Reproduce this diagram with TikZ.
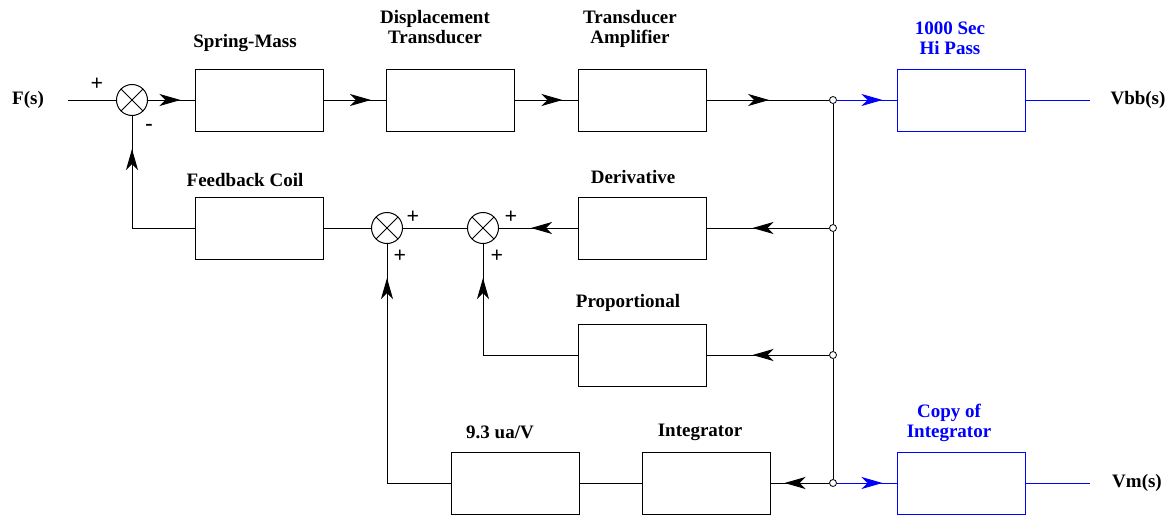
\documentclass[tikz,border=0pt]{standalone}
\usepackage{fontspec}
\setmainfont{Liberation Serif}[BoldFont={Liberation Serif Bold}]
\usetikzlibrary{arrows.meta,decorations.markings}

\begin{document}
\begin{tikzpicture}[x=1pt,y=-1pt,line width=1pt]
		\tikzset{block/.style = {shape=rectangle,draw, minimum width=128pt, minimum height=62pt, inner sep=0pt}}
		\tikzset{sumj/.style = {shape=circle,draw, minimum size=31pt, inner sep=0pt,
			path picture={\draw (path picture bounding box.north west)--(path picture bounding box.south east)
				(path picture bounding box.south west)--(path picture bounding box.north east);}}}
		\tikzset{tap/.style = {shape=circle,draw, fill=white, minimum size=7pt, inner sep=0pt, line width=0.8pt}}
		\tikzset{lbl/.style = {font=\rmfamily\fontsize{19}{20}\selectfont\bfseries, align=center, inner sep=0pt}}
		\tikzset{sgn/.style = {font=\rmfamily\fontsize{22}{22}\selectfont\bfseries, inner sep=0pt}}
		\tikzset{flow/.style = {decoration={markings, mark=at position #1 with {\arrow{Stealth[length=21pt,width=12pt,inset=6pt]}}}, postaction={decorate}}}

		\useasboundingbox (0,0) rectangle (1169,517);

		\node[lbl] (Fs) at (28,100) {F(s)};
		\coordinate (in) at (68,100);
		\node[sumj] (S_1) at (132,100) {};
		\node[sgn] (p_1) at (97,84) {+};
		\node[sgn] (m_1) at (149,127) {-};

		\node[block] (sm) at (259,100) {};
		\node[lbl] (sm_t) at (245,43) {Spring-Mass};
		\node[block] (dt) at (450.5,100) {};
		\node[lbl] (dt_t) at (435,27) {Displacement\\Transducer};
		\node[block] (ta) at (642,100) {};
		\node[lbl] (ta_t) at (630,29) {Transducer\\Amplifier};
		\node[block, blue] (hp) at (961,100) {};
		\node[lbl, blue] (hp_t) at (950,38) {1000 Sec\\Hi Pass};
		\coordinate (out_1) at (1090,100);
		\node[lbl] (Vbb) at (1138,100) {Vbb(s)};

		\node[block] (fb) at (259,228) {};
		\node[lbl] (fb_t) at (245,180) {Feedback Coil};
		\node[sumj] (S_2) at (387,228) {};
		\node[sgn] (p_2) at (413,217) {+};
		\node[sgn] (p_3) at (400,256) {+};
		\node[sumj] (S_3) at (483,228) {};
		\node[sgn] (p_4) at (511,217) {+};
		\node[sgn] (p_5) at (497,256) {+};
		\node[block] (der) at (642,228) {};
		\node[lbl] (der_t) at (633,177) {Derivative};

		\node[block] (prop) at (642,355) {};
		\node[lbl] (prop_t) at (628,303) {Proportional};

		\node[block] (gain) at (515,483) {};
		\node[lbl] (gain_t) at (500,432) {9.3 ua/V};
		\node[block] (int) at (706,483) {};
		\node[lbl] (int_t) at (700,432) {Integrator};
		\node[block, blue] (cpy) at (961,483) {};
		\node[lbl, blue] (cpy_t) at (949,423) {Copy of\\Integrator};
		\coordinate (out_2) at (1090,483);
		\node[lbl] (Vm) at (1137,483) {Vm(s)};

		\node[tap] (T_1) at (833,100) {};
		\node[tap] (T_2) at (833,228) {};
		\node[tap] (T_3) at (833,355) {};
		\node[tap] (T_4) at (833,483) {};

		% forward path
		\draw (in)--(S_1);
		\draw[flow=-14pt] (S_1)--(sm);
		\draw[flow=-15pt] (sm)--(dt);
		\draw[flow=-15pt] (dt)--(ta);
		\draw[flow=-60pt] (ta)--(T_1);
		\draw[blue, flow=-14pt] (T_1)--(hp);
		\draw[blue] (hp)--(out_1);
		\draw (T_1)--(T_2);
		\draw (T_2)--(T_3);
		\draw (T_3)--(T_4);

		% feedback
		\draw[flow=-46pt] (T_2)--(der);
		\draw[flow=-32pt] (der)--(S_3);
		\draw (S_3)--(S_2);
		\draw (S_2)--(fb);
		\draw[flow=-33pt] (fb)-|(S_1);
		\draw[flow=-46pt] (T_3)--(prop);
		\draw[flow=-34pt] (prop)-|(S_3);
		\draw[flow=-14pt] (T_4)--(int);
		\draw (int)--(gain);
		\draw[flow=-34pt] (gain)-|(S_2);
		\draw[blue, flow=-14pt] (T_4)--(cpy);
		\draw[blue] (cpy)--(out_2);

	\end{tikzpicture}
\end{document}
